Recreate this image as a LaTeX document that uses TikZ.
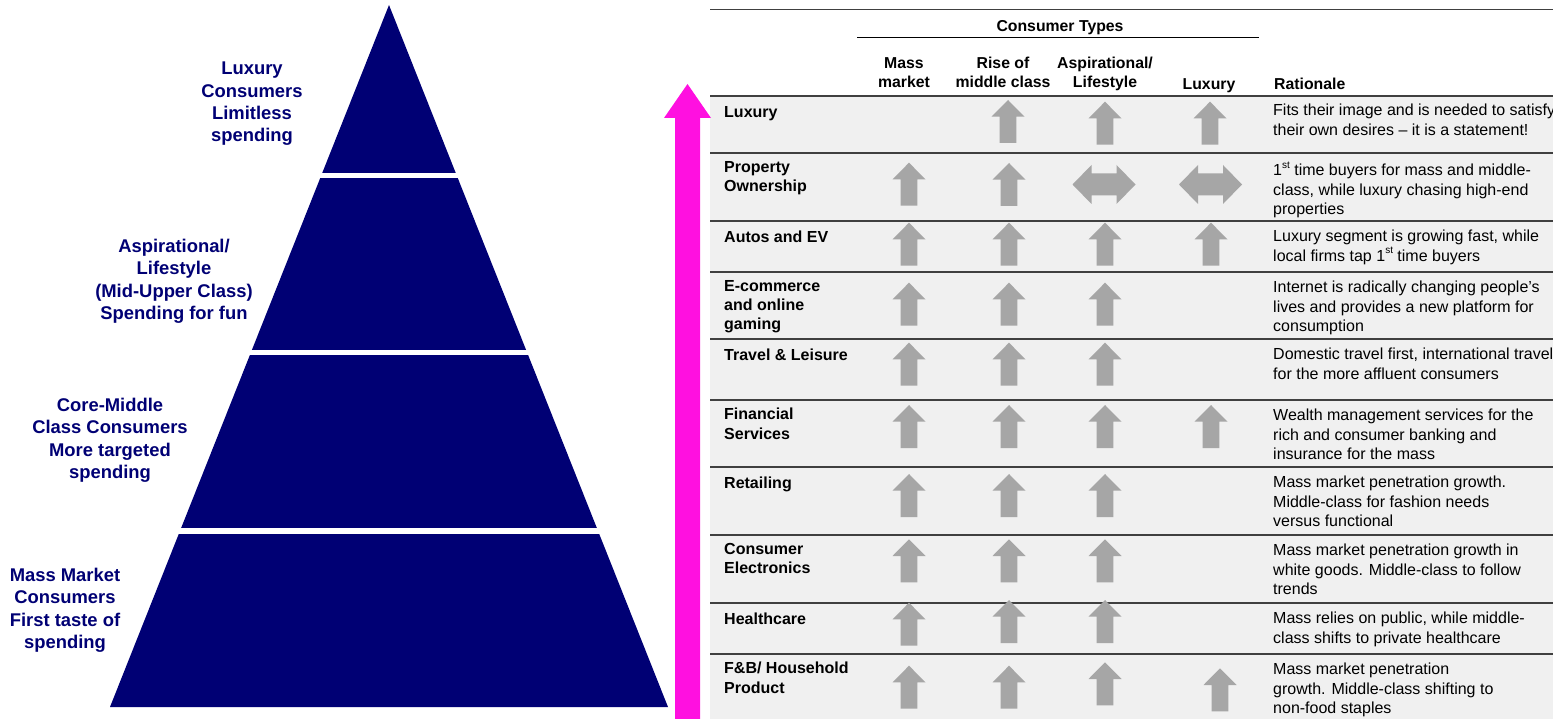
\documentclass[tikz,border=0pt]{standalone}
\usepackage{fontspec}
\setmainfont{Liberation Sans}
\definecolor{navy}{RGB}{0,0,116}
\definecolor{arrowgray}{RGB}{166,166,166}
\definecolor{rowfill}{RGB}{240,240,240}
\definecolor{rule}{RGB}{64,64,64}
\definecolor{pinkarrow}{RGB}{255,16,224}
% block arrows used as table ratings
\newcommand\garrowup[2]{\fill[arrowgray] (#1,#2) -- ++(16.5,16.7) -- ++(-8.2,0) -- ++(0,26.3) -- ++(-16.6,0) -- ++(0,-26.3) -- ++(-8.2,0) -- cycle;}
\newcommand\garrowlr[2]{\fill[arrowgray] (#1-31.5,#2) -- (#1-12.5,#2-19.5) -- (#1-12.5,#2-11) -- (#1+12.5,#2-11) -- (#1+12.5,#2-19.5) -- (#1+31.5,#2) -- (#1+12.5,#2+19.5) -- (#1+12.5,#2+11) -- (#1-12.5,#2+11) -- (#1-12.5,#2+19.5) -- cycle;}
\newcommand\ordsup[1]{\raisebox{0.45em}{\fontsize{10}{10}\selectfont #1}}
\begin{document}
\begin{tikzpicture}[x=1pt,y=-1pt,
  pyrtext/.style={font=\fontsize{18.4}{22.3}\selectfont\bfseries, text=navy, align=center, anchor=north, inner sep=0pt, execute at begin node=\strut},
  headtext/.style={font=\fontsize{15.8}{19}\selectfont\bfseries, align=center, anchor=north, inner sep=0pt, execute at begin node=\strut},
  rowlabel/.style={font=\fontsize{16}{19.3}\selectfont\bfseries, align=left, anchor=north west, inner sep=0pt, execute at begin node=\strut},
  rationale/.style={font=\fontsize{16}{19.3}\selectfont, align=left, anchor=north west, inner sep=0pt, execute at begin node=\strut},
  tablerule/.style={draw=rule, line width=2pt}]
\useasboundingbox (0,0) rectangle (1553,719);

% ---------- pyramid ----------
\fill[navy] (389,5) -- (668,707) -- (110,707) -- cycle;
\draw[white, line width=5pt] (300,175.2) -- (480,175.2);
\draw[white, line width=5pt] (230,352.5) -- (550,352.5);
\draw[white, line width=6pt] (160,531) -- (620,531);

\node[pyrtext] (lux) at (252,62) {Luxury\\Consumers\\Limitless\\spending};
\node[pyrtext] (asp) at (174,239) {Aspirational/\\Lifestyle\\(Mid-Upper Class)\\Spending for fun};
\node[pyrtext] (core) at (110,398) {Core-Middle\\Class Consumers\\More targeted\\spending};
\node[pyrtext] (mass) at (65,568) {Mass Market\\Consumers\\First taste of\\spending};

% ---------- table ----------
\fill[rowfill] (710,96) rectangle (1553,719);
\draw[draw=rule, line width=1.5pt] (710,9.5) -- (1553,9.5);
\draw[draw=black, line width=1.2pt] (857,37.3) -- (1259,37.3);
\foreach \y in {96,153,221,272,339,400,467,535,603,654}
  {\draw[tablerule] (710,\y) -- (1553,\y);}

\node[headtext] (hct) at (1060,17.9) {Consumer Types};
\node[headtext] (hmass) at (904,57) {Mass\\market};
\node[headtext] (hrise) at (1003,57) {Rise of\\middle class};
\node[headtext] (hasp) at (1105,57) {Aspirational/\\Lifestyle};
\node[headtext] (hlux) at (1209,76) {Luxury};
\node[headtext, anchor=north west] (hrat) at (1274,76) {Rationale};

% row labels
\node[rowlabel] (r1) at (724,104) {Luxury};
\node[rowlabel] (r2) at (724,161) {Property\\Ownership};
\node[rowlabel] (r3) at (724,229) {Autos and EV};
\node[rowlabel] (r4) at (724,280) {E-commerce\\and online\\gaming};
\node[rowlabel] (r5) at (724,347) {Travel \& Leisure};
\node[rowlabel] (r6) at (724,408) {Financial\\Services};
\node[rowlabel] (r7) at (724,475) {Retailing};
\node[rowlabel] (r8) at (724,543) {Consumer\\Electronics};
\node[rowlabel] (r9) at (724,611) {Healthcare};
\node[rowlabel] (r10) at (724,662) {F\&B/ Household\\Product};

% rationale column
\node[rationale] (t1) at (1273,104) {Fits their image and is needed to satisfy\\their own desires – it is a statement!};
\node[rationale] (t2) at (1273,162) {1\ordsup{st} time buyers for mass and middle-\\class, while luxury chasing high-end\\properties};
\node[rationale] (t3) at (1273,230) {Luxury segment is growing fast, while\\local firms tap 1\ordsup{st} time buyers};
\node[rationale] (t4) at (1273,281) {Internet is radically changing people’s\\lives and provides a new platform for\\consumption};
\node[rationale] (t5) at (1273,348) {Domestic travel first, international travel\\for the more affluent consumers};
\node[rationale] (t6) at (1273,409) {Wealth management services for the\\rich and consumer banking and\\insurance for the mass};
\node[rationale] (t7) at (1273,476) {Mass market penetration growth.\\Middle-class for fashion needs\\versus functional};
\node[rationale] (t8) at (1273,544) {Mass market penetration growth in\\white goods. Middle-class to follow\\trends};
\node[rationale] (t9) at (1273,612) {Mass relies on public, while middle-\\class shifts to private healthcare};
\node[rationale] (t10) at (1273,663) {Mass market penetration\\growth. Middle-class shifting to\\non-food staples};

% rating arrows
\garrowup{1008}{100}\garrowup{1105}{101.7}\garrowup{1210}{101.7}
\garrowup{909}{162.7}\garrowup{1009}{163}\garrowlr{1104}{184.5}\garrowlr{1210.5}{184.5}
\foreach \x in {909,1009,1105,1211} {\garrowup{\x}{222.7}}
\foreach \x in {909,1009,1105} {\garrowup{\x}{282.7}}
\foreach \x in {909,1009,1105} {\garrowup{\x}{342.7}}
\foreach \x in {909,1009,1105,1211} {\garrowup{\x}{405}}
\foreach \x in {909,1009,1105} {\garrowup{\x}{474}}
\foreach \x in {909,1009,1105} {\garrowup{\x}{539.3}}
\garrowup{909}{602.7}\garrowup{1009}{600}\garrowup{1105}{600}
\garrowup{909}{665.7}\garrowup{1009}{665.7}\garrowup{1105}{662.3}\garrowup{1220}{668.3}

% ---------- rising arrow ----------
\fill[pinkarrow] (687.5,84) -- (711,118) -- (700,118) -- (700,719) -- (675,719) -- (675,118) -- (664,118) -- cycle;
\end{tikzpicture}
\end{document}
